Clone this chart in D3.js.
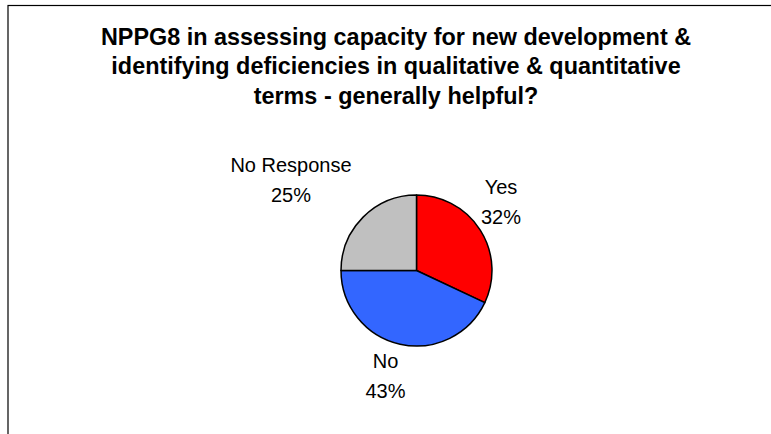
<!DOCTYPE html>
<html><head><meta charset="utf-8">
<script src="https://cdn.jsdelivr.net/npm/d3@7"></script>
<style>html,body{margin:0;padding:0;background:#fff;}svg{display:block;}</style>
</head><body>
<svg id="chart" width="771" height="434"></svg>
<script>
const categories = ["Yes", "No", "No Response"];
const values = [32, 43, 25];
const colors = ["#FF0000", "#3366FF", "#C0C0C0"];
const titleLines = [
  "NPPG8 in assessing capacity for new development &",
  "identifying deficiencies in qualitative & quantitative",
  "terms - generally helpful?"
];

const svg = d3.select("#chart");
svg.append("rect").attr("x", 8).attr("y", 5.5).attr("width", 800).attr("height", 500)
  .attr("fill", "#fff").attr("stroke", "#000").attr("stroke-width", 1.2);

const title = svg.append("text").attr("text-anchor", "middle")
  .attr("font-family", "Liberation Sans, Arial, sans-serif").attr("font-weight", "bold")
  .attr("font-size", 23.4).attr("fill", "#000");
titleLines.forEach((t, i) => title.append("tspan").attr("x", 396).attr("y", 44.5 + i * 29.8).text(t));

const cx = 416.5, cy = 270.5, r = 75.5;
const pie = d3.pie().sort(null).value(d => d)(values);
const arc = d3.arc().innerRadius(0).outerRadius(r);
const g = svg.append("g").attr("transform", `translate(${cx},${cy})`);
g.selectAll("path").data(pie).join("path")
  .attr("d", arc).attr("fill", (d, i) => colors[i])
  .attr("stroke", "#000").attr("stroke-width", 1.5).attr("stroke-linejoin", "round");

const total = d3.sum(values);
const labelPos = [[501, 194], [385.5, 368], [291, 172]];
pie.forEach((d, i) => {
  const t = svg.append("text").attr("text-anchor", "middle")
    .attr("font-family", "Liberation Sans, Arial, sans-serif").attr("font-size", 20).attr("fill", "#000");
  t.append("tspan").attr("x", labelPos[i][0]).attr("y", labelPos[i][1]).text(categories[i]);
  t.append("tspan").attr("x", labelPos[i][0]).attr("y", labelPos[i][1] + 30)
    .text(Math.round(values[i] / total * 100) + "%");
});
</script>
</body></html>
